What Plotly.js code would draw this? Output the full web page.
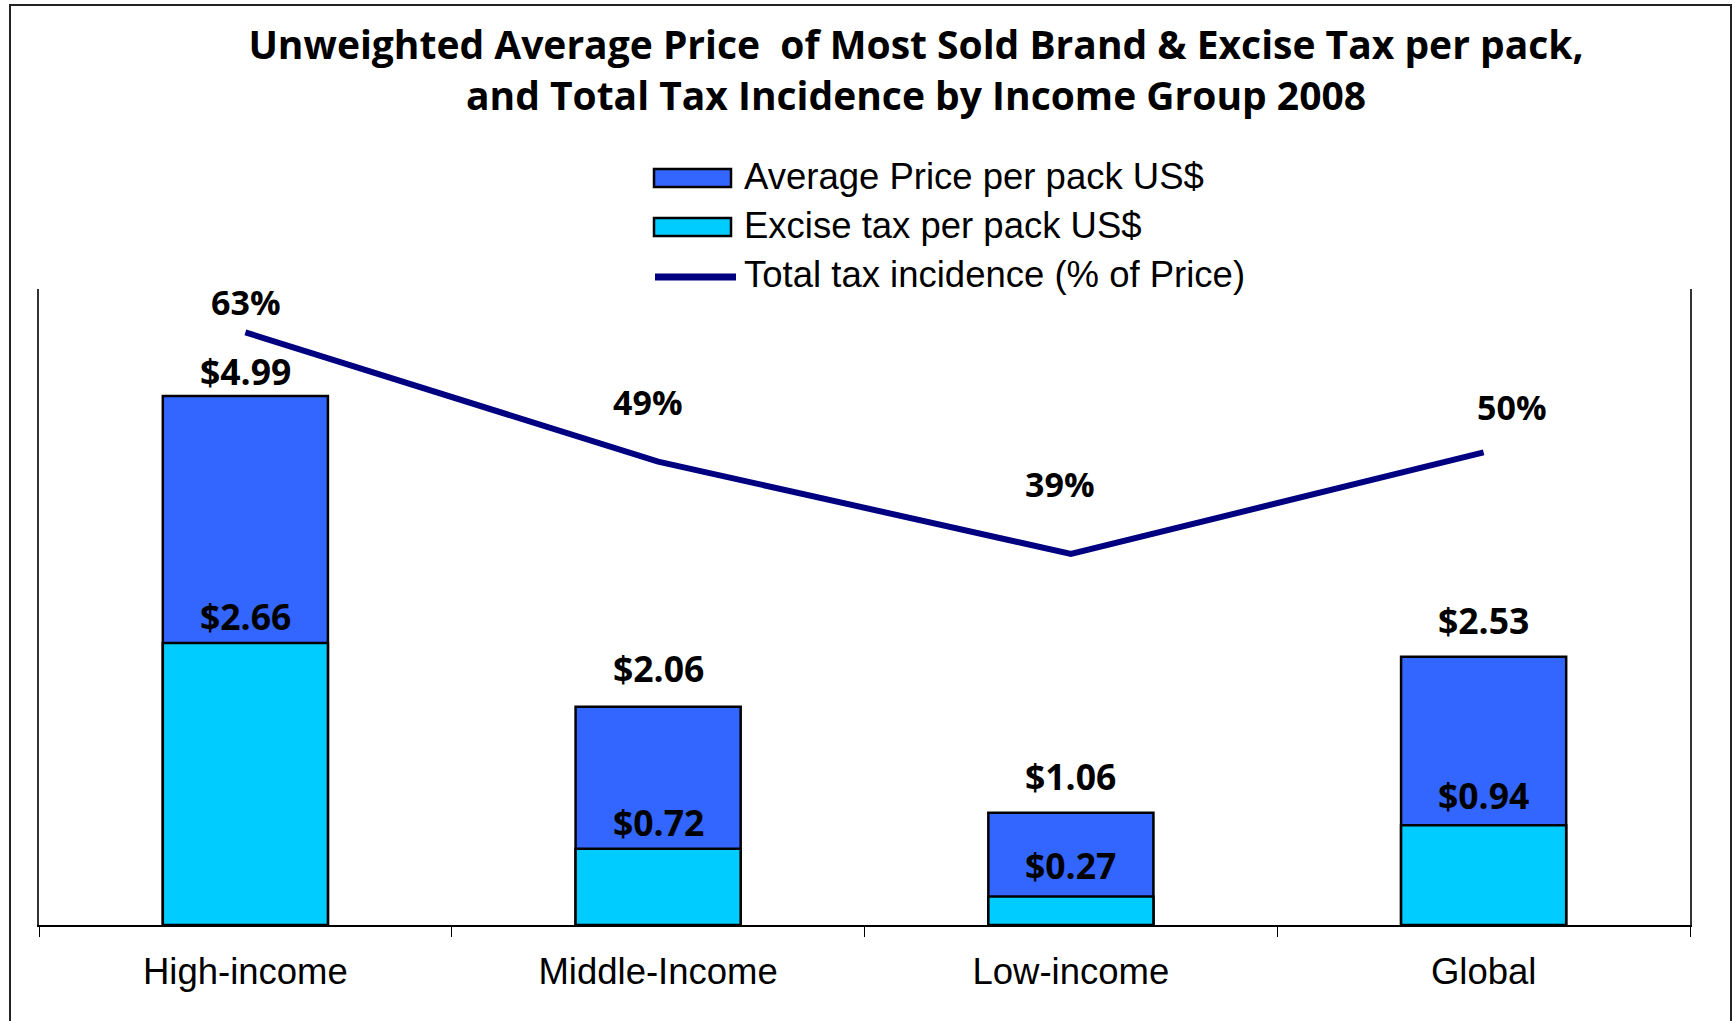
<!DOCTYPE html>
<html>
<head>
<meta charset="utf-8">
<script src="https://cdn.plot.ly/plotly-3.0.1.min.js"></script>
<style>
  html, body { margin: 0; padding: 0; background: #ffffff; }
  #chart { width: 1735px; height: 1021px; }
</style>
</head>
<body>
<div id="chart"></div>
<script>
// ---------------- data ----------------
const categories = ['High-income', 'Middle-Income', 'Low-income', 'Global'];
const avgPrice = [4.99, 2.06, 1.06, 2.53];
const exciseTax = [2.66, 0.72, 0.27, 0.94];
const taxIncidence = [0.63, 0.49, 0.39, 0.50];
const seriesNames = ['Average Price per pack US$', 'Excise tax per pack US$', 'Total tax incidence (% of Price)'];
const titleLines = ['Unweighted Average Price\u00A0\u00A0of Most Sold Brand & Excise Tax per pack,',
                    'and Total Tax Incidence by Income Group 2008'];

// ---------------- style / layout constants ----------------
const W = 1735, H = 1021;
const M = { l: 39, r: 45, t: 289, b: 96 };
const PW = W - M.l - M.r, PH = H - M.t - M.b;
const px = X => (X - M.l) / PW;          // pixel -> paper x
const py = Y => (H - M.b - Y) / PH;      // pixel -> paper y

const BLUE = '#3366FF', CYAN = '#00CCFF', NAVY = '#000080';
const dollarFont = { family: 'Open Sans, sans-serif', size: 35.5, color: '#000000', weight: 700 };
const pctFont = { family: 'Open Sans, sans-serif', size: 34, color: '#000000', weight: 700 };
const plainFont = { family: 'Liberation Sans, Arial, sans-serif', size: 36.5, color: '#000000' };

const priceLabelShift = [25, 39, 37, 37];
const exciseLabelShift = [27, 27, 31, 30];
const pctLabelShift = [[1, -30], [-10, -60], [-11, -70], [28, -45]];

// ---------------- traces ----------------
const traces = [
  {
    type: 'bar', name: seriesNames[0], x: categories, y: avgPrice,
    width: 0.4, marker: { color: BLUE, line: { color: '#000000', width: 2.5 } },
    showlegend: false, hoverinfo: 'x+y'
  },
  {
    type: 'bar', name: seriesNames[1], x: categories, y: exciseTax,
    width: 0.4, marker: { color: CYAN, line: { color: '#000000', width: 2.5 } },
    showlegend: false, hoverinfo: 'x+y'
  },
  {
    type: 'scatter', mode: 'lines', name: seriesNames[2], x: categories, y: taxIncidence,
    yaxis: 'y2', line: { color: NAVY, width: 6 }, showlegend: false, hoverinfo: 'x+y'
  }
];

// ---------------- annotations ----------------
const annotations = [];
categories.forEach((c, i) => {
  annotations.push({
    x: c, y: avgPrice[i], xref: 'x', yref: 'y', text: '$' + avgPrice[i].toFixed(2),
    showarrow: false, yanchor: 'middle', yshift: priceLabelShift[i], font: dollarFont
  });
  annotations.push({
    x: c, y: exciseTax[i], xref: 'x', yref: 'y', text: '$' + exciseTax[i].toFixed(2),
    showarrow: false, yanchor: 'middle', yshift: exciseLabelShift[i], font: dollarFont
  });
  annotations.push({
    x: c, y: taxIncidence[i], xref: 'x', yref: 'y2', text: Math.round(taxIncidence[i] * 100) + '%',
    showarrow: false, yanchor: 'middle', xshift: pctLabelShift[i][0], yshift: -pctLabelShift[i][1], font: pctFont
  });
});

// custom legend (large swatches as in the original)
const legendY = [176, 225, 275];
seriesNames.forEach((n, i) => {
  annotations.push({
    x: px(742), y: py(legendY[i]), xref: 'paper', yref: 'paper', text: n,
    showarrow: false, xanchor: 'left', yanchor: 'middle', font: plainFont
  });
});

const shapes = [
  // outer chart frame
  { type: 'rect', xref: 'paper', yref: 'paper', x0: px(10), x1: px(1731), y0: py(5), y1: py(1040),
    line: { color: '#222222', width: 2 }, fillcolor: 'rgba(0,0,0,0)', layer: 'below' },
  // legend swatches
  { type: 'rect', xref: 'paper', yref: 'paper', x0: px(654), x1: px(731), y0: py(187), y1: py(169),
    fillcolor: BLUE, line: { color: '#000000', width: 2.5 } },
  { type: 'rect', xref: 'paper', yref: 'paper', x0: px(654), x1: px(731), y0: py(236), y1: py(218),
    fillcolor: CYAN, line: { color: '#000000', width: 2.5 } },
  { type: 'line', xref: 'paper', yref: 'paper', x0: px(655), x1: px(736), y0: py(277), y1: py(277),
    line: { color: NAVY, width: 7 } }
];

const layout = {
  width: W, height: H,
  margin: M,
  paper_bgcolor: '#ffffff', plot_bgcolor: '#ffffff',
  barmode: 'overlay',
  showlegend: false,
  title: {
    text: titleLines.join('<br>'),
    font: { family: 'Open Sans, sans-serif', size: 39, color: '#000000', weight: 700 },
    x: 916 / W, xanchor: 'center', xref: 'container',
    y: 1 - 59 / H, yanchor: 'middle', yref: 'container'
  },
  xaxis: {
    type: 'category', categoryarray: categories, range: [-0.5, 3.5],
    showline: true, linecolor: '#000000', linewidth: 2,
    ticks: 'outside', tickson: 'boundaries', ticklen: 10, tickwidth: 1.2, tickcolor: '#000000',
    tickfont: plainFont, ticklabelstandoff: 13,
    showgrid: false, zeroline: false, fixedrange: true
  },
  xaxis2: {
    overlaying: 'x', anchor: 'y', type: 'linear', range: [-0.5, 3.5],
    tickmode: 'array', tickvals: [-0.5, 0.5, 1.5, 2.5, 3.5],
    ticks: 'inside', ticklen: 10, tickwidth: 1.2, tickcolor: '#000000',
    showticklabels: false, showline: false, showgrid: false, zeroline: false
  },
  yaxis: {
    range: [0, 6], showline: true, linecolor: '#333333', linewidth: 1.5,
    ticks: '', showticklabels: false, showgrid: false, zeroline: false, fixedrange: true
  },
  yaxis2: {
    overlaying: 'y', side: 'right', anchor: 'x', range: [-0.012, 0.677],
    showline: true, linecolor: '#333333', linewidth: 1.5,
    ticks: '', showticklabels: false, showgrid: false, zeroline: false
  },
  annotations: annotations,
  shapes: shapes
};

Plotly.newPlot('chart', traces, layout, { displayModeBar: false, responsive: false });
</script>
</body>
</html>
